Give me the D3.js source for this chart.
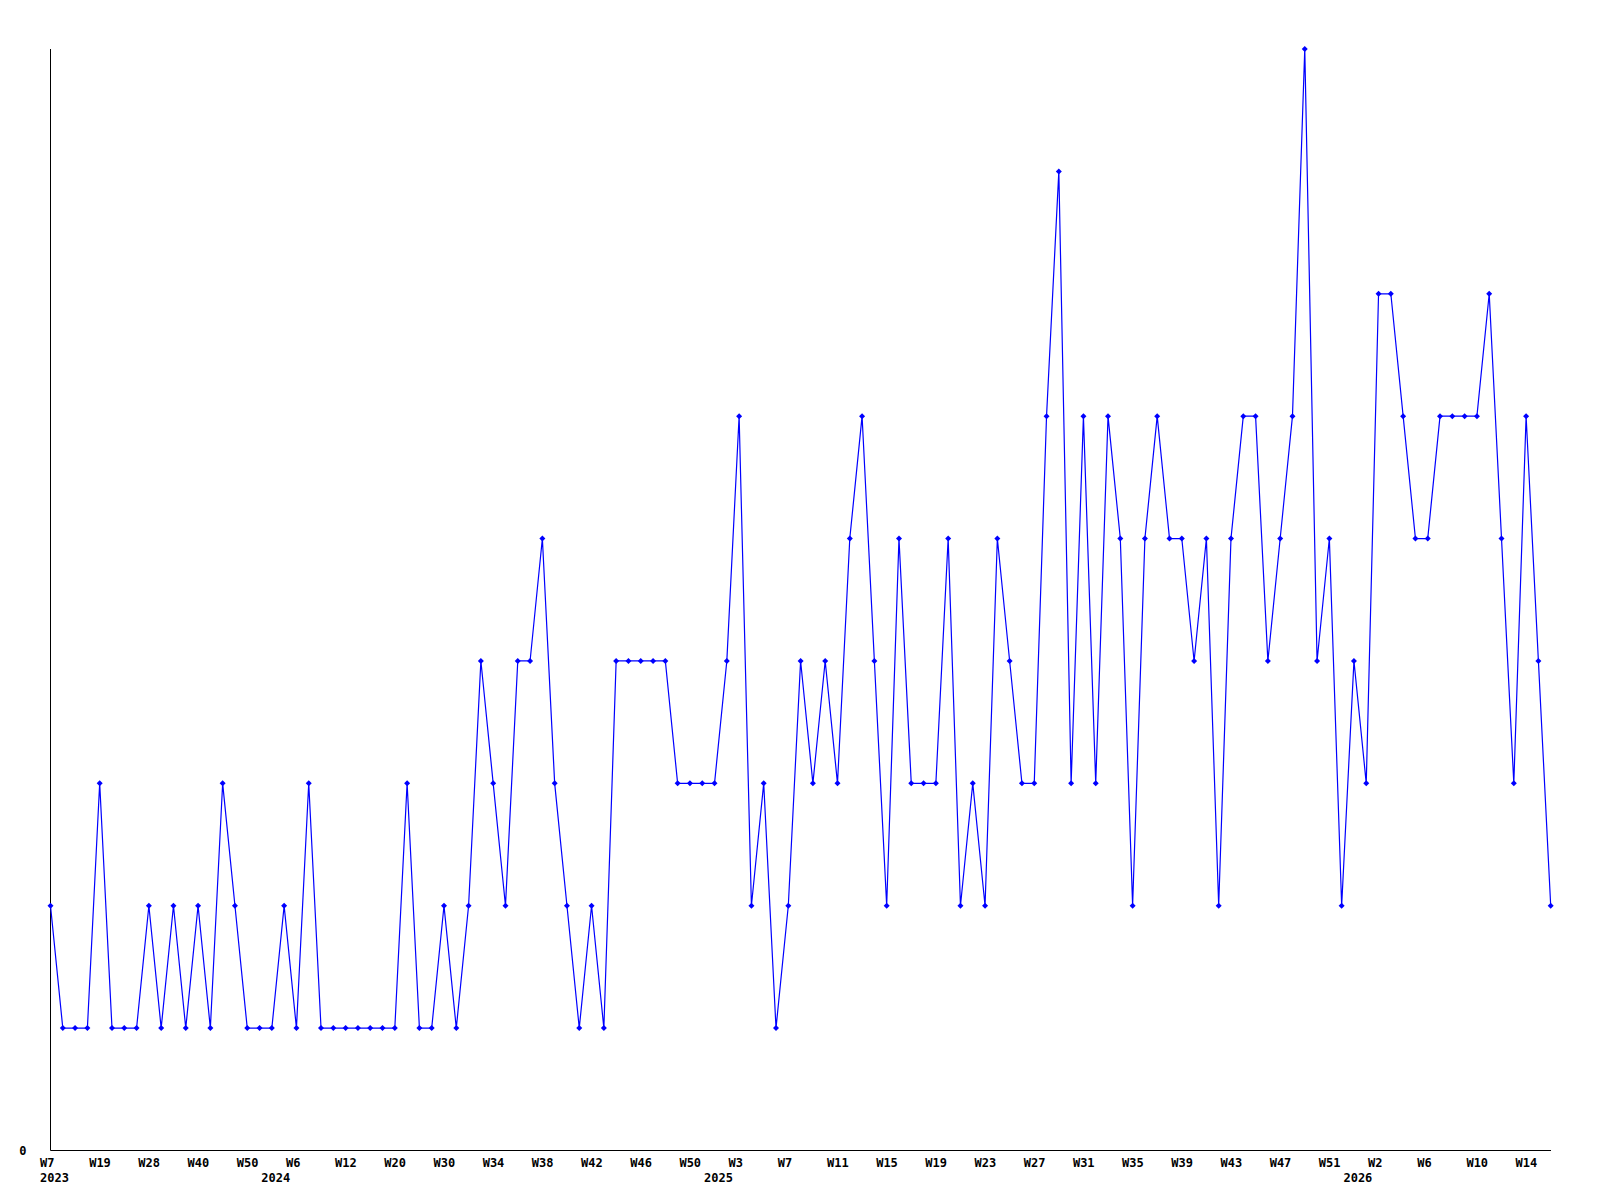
<!DOCTYPE html>
<html>
<head>
<meta charset="utf-8">
<script src="https://cdn.jsdelivr.net/npm/d3@7"></script>
<style>
  html, body { margin: 0; padding: 0; background: #fff; }
  svg { display: block; }
  text { font-family: "DejaVu Sans Mono", "Liberation Mono", monospace; font-weight: bold; font-size: 12px; fill: #000; }
</style>
</head>
<body>
<svg id="chart" width="1600" height="1200"></svg>
<script>
// Weekly values (one per point, evenly spaced)
const values = [
  2,1,1,1,3,1,1,1,2,1,
  2,1,2,1,3,2,1,1,1,2,
  1,3,1,1,1,1,1,1,1,3,
  1,1,2,1,2,4,3,2,4,4,
  5,3,2,1,2,1,4,4,4,4,
  4,3,3,3,3,4,6,2,3,1,
  2,4,3,4,3,5,6,4,2,5,
  3,3,3,5,2,3,2,5,4,3,
  3,6,8,3,6,3,6,5,2,5,
  6,5,5,4,5,2,5,6,6,4,
  5,6,9,4,5,2,4,3,7,7,
  6,5,5,6,6,6,6,7,5,3,
  6,4,2
];
// Week tick labels, shown every 4th point
const weekLabels = ["W7","W19","W28","W40","W50","W6","W12","W20","W30","W34","W38",
  "W42","W46","W50","W3","W7","W11","W15","W19","W23","W27","W31","W35","W39",
  "W43","W47","W51","W2","W6","W10","W14"];
const tickEvery = 4;
// Year labels and the point index where each year starts
const yearLabels = ["2023","2024","2025","2026"];
const yearStarts = [0, 18, 54, 106];
const yTickLabels = ["0"];

const svg = d3.select("#chart");
const idx = d3.range(values.length);
const x = d3.scalePoint().domain(idx).range([50.5, 1550.7]);
const y = d3.scaleLinear().domain([0, d3.max(values)]).range([1150.5, 49]);

// axes
svg.append("line").attr("x1", 50.5).attr("x2", 50.5).attr("y1", 49).attr("y2", 1150.5)
  .attr("stroke", "#000").attr("stroke-width", 1);
svg.append("line").attr("x1", 50.5).attr("x2", 1551).attr("y1", 1150.5).attr("y2", 1150.5)
  .attr("stroke", "#000").attr("stroke-width", 1);

// y label
svg.selectAll("text.ylab").data(yTickLabels).enter().append("text")
  .attr("class", "ylab").attr("x", 26.5).attr("y", d => y(+d) + 4.5)
  .attr("text-anchor", "end").text(d => d);

// x week labels
svg.selectAll("text.wk").data(weekLabels).enter().append("text")
  .attr("class", "wk")
  .attr("x", (d, i) => x(i * tickEvery) - 10.5)
  .attr("y", 1166.5)
  .text(d => d);

// year labels
svg.selectAll("text.yr").data(yearLabels).enter().append("text")
  .attr("class", "yr")
  .attr("x", (d, i) => x(yearStarts[i]) - 10.5)
  .attr("y", 1182)
  .text(d => d);

// line
const line = d3.line().x((d, i) => x(i)).y(d => y(d));
svg.append("path").datum(values).attr("d", line)
  .attr("fill", "none").attr("stroke", "#0000ff").attr("stroke-width", 1.2);

// markers (small diamonds)
const r = 3;
svg.selectAll("path.mk").data(values).enter().append("path")
  .attr("class", "mk")
  .attr("d", (d, i) => {
    const cx = x(i), cy = y(d);
    return `M${cx},${cy - r}L${cx + r},${cy}L${cx},${cy + r}L${cx - r},${cy}Z`;
  })
  .attr("fill", "#0000ff");
</script>
</body>
</html>
